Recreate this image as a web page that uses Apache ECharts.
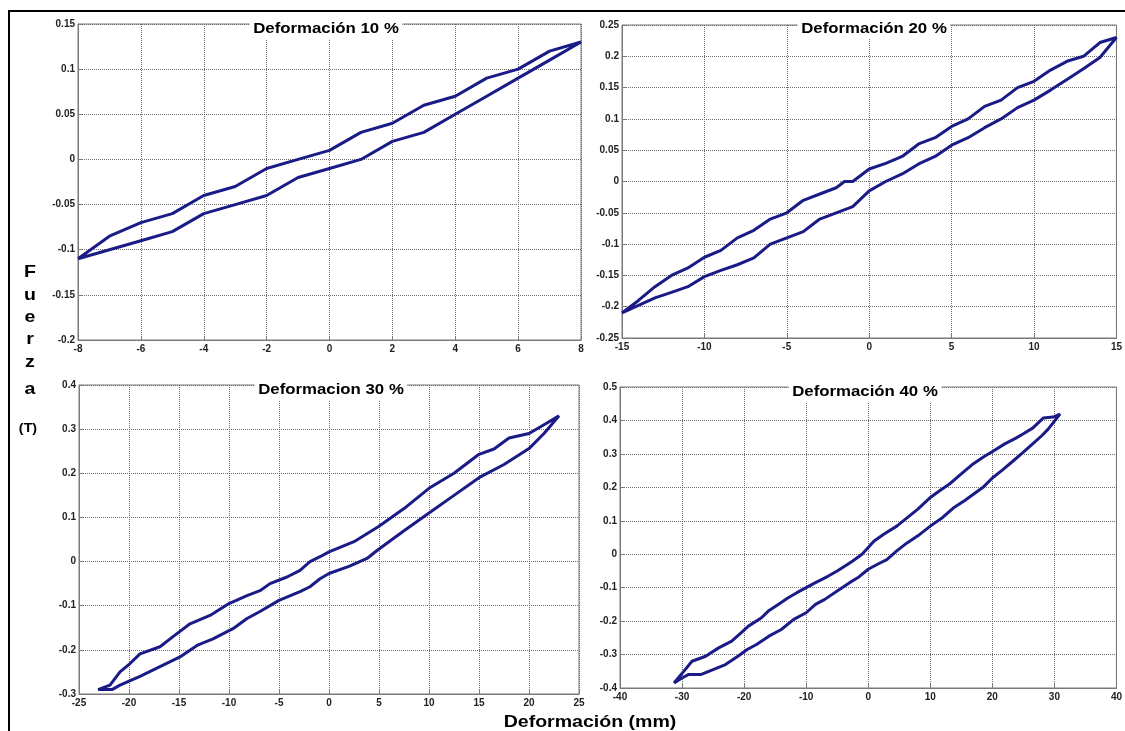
<!DOCTYPE html>
<html>
<head>
<meta charset="utf-8">
<script src="https://cdn.jsdelivr.net/npm/echarts@6/dist/echarts.min.js"></script>
<style>
  html, body { margin: 0; padding: 0; background: #fff; }
  #chart { width: 1125px; height: 731px; }
</style>
</head>
<body>
<div id="chart"></div>
<script>
// Hysteresis loops, force (T) vs. displacement (mm), at four deformation levels.
// Each loop: loading branch (lower) then unloading branch (upper), as [mm, T] pairs.

const titles = ['Deformación 10 %', 'Deformación 20 %', 'Deformacion 30 %', 'Deformación 40 %'];

const loop10Lower = [[-8,-0.11],[-7,-0.10],[-6,-0.09],[-5,-0.08],[-4,-0.06],[-3,-0.05],[-2,-0.04],[-1,-0.02],[0,-0.01],[1,0.0],[2,0.02],[3,0.03],[4,0.05],[5,0.07],[6,0.09],[7,0.11],[8,0.13]];
const loop10Upper = [[8,0.13],[7,0.12],[6,0.10],[5,0.09],[4,0.07],[3,0.06],[2,0.04],[1,0.03],[0,0.01],[-1,0.0],[-2,-0.01],[-3,-0.03],[-4,-0.04],[-5,-0.06],[-6,-0.07],[-7,-0.085],[-8,-0.11]];

const loop20Lower = [[-15,-0.21],[-14,-0.198],[-13,-0.186],[-12,-0.177],[-11,-0.168],[-10,-0.152],[-9,-0.142],[-8,-0.133],[-7,-0.122],[-6,-0.10],[-5,-0.09],[-4,-0.08],[-3,-0.06],[-2,-0.05],[-1,-0.04],[0,-0.015],[1,0.0],[2,0.012],[3,0.028],[4,0.04],[5,0.058],[6,0.07],[7,0.086],[8,0.10],[9,0.118],[10,0.13],[11,0.146],[12,0.163],[13,0.18],[14,0.198],[15,0.23]];
const loop20Upper = [[15,0.23],[14,0.222],[13,0.20],[12,0.192],[11,0.178],[10,0.16],[9,0.15],[8,0.13],[7,0.12],[6,0.10],[5,0.088],[4,0.07],[3,0.06],[2,0.04],[1,0.029],[0,0.02],[-1,0.0],[-1.5,0.0],[-2,-0.01],[-3,-0.02],[-4,-0.03],[-5,-0.05],[-6,-0.06],[-7,-0.078],[-8,-0.09],[-9,-0.11],[-10,-0.121],[-11,-0.138],[-12,-0.15],[-13,-0.168],[-14,-0.19],[-15,-0.21]];

const loop30Lower = [[-23.1,-0.29],[-21.7,-0.29],[-20.9,-0.28],[-18.9,-0.26],[-16.9,-0.238],[-14.9,-0.216],[-13.2,-0.19],[-11.6,-0.175],[-9.6,-0.152],[-8.2,-0.129],[-6.9,-0.113],[-5,-0.088],[-2.9,-0.068],[-1.9,-0.057],[-0.9,-0.039],[0,-0.027],[2,-0.011],[3.8,0.007],[4.8,0.025],[7.5,0.07],[10,0.11],[12.5,0.15],[15,0.19],[17.5,0.22],[20,0.256],[21.5,0.29],[23,0.33]];
const loop30Upper = [[23,0.33],[21.5,0.31],[20,0.29],[18,0.28],[16.5,0.255],[15,0.243],[12.5,0.2],[10,0.166],[7.5,0.12],[5,0.08],[2.5,0.045],[0,0.022],[-0.9,0.011],[-1.9,0.0],[-2.9,-0.02],[-4.2,-0.035],[-5.9,-0.05],[-6.9,-0.066],[-8.2,-0.077],[-10,-0.095],[-11.9,-0.122],[-13.9,-0.141],[-15.6,-0.17],[-16.9,-0.193],[-18.9,-0.209],[-19.9,-0.231],[-20.9,-0.25],[-21.9,-0.28],[-23.1,-0.29]];

const loop40Lower = [[-31.3,-0.385],[-30,-0.37],[-29,-0.36],[-27,-0.36],[-25,-0.345],[-23,-0.33],[-21,-0.305],[-19.5,-0.285],[-18,-0.27],[-16,-0.245],[-14,-0.225],[-12,-0.195],[-10,-0.175],[-8.5,-0.15],[-7,-0.135],[-5,-0.11],[-3,-0.085],[-1.5,-0.068],[0,-0.045],[1.5,-0.03],[3,-0.016],[4.6,0.01],[6.2,0.033],[8,0.055],[10,0.084],[12,0.11],[13.7,0.138],[15.5,0.16],[17,0.18],[18.5,0.2],[20,0.228],[21.5,0.25],[23.3,0.278],[25,0.305],[26.5,0.33],[28,0.355],[29,0.374],[30.9,0.419]];
const loop40Upper = [[30.9,0.419],[29.8,0.41],[28.2,0.407],[26.5,0.377],[25,0.36],[23.8,0.347],[22,0.33],[20.1,0.308],[18.5,0.29],[16.9,0.27],[15,0.24],[13.1,0.21],[11.5,0.19],[9.9,0.168],[8,0.135],[6,0.105],[4.6,0.084],[2.5,0.06],[0.9,0.039],[0,0.02],[-1,0.0],[-2.5,-0.02],[-3.3,-0.03],[-5,-0.05],[-6.5,-0.066],[-8.5,-0.085],[-10,-0.10],[-11.5,-0.115],[-12.9,-0.13],[-14.5,-0.15],[-16.1,-0.17],[-17.2,-0.19],[-19.3,-0.215],[-20.5,-0.235],[-22,-0.26],[-24.1,-0.28],[-26.2,-0.305],[-28.4,-0.32],[-29.5,-0.345],[-31.3,-0.385]];

// Axis ranges: [min, max, interval]
const xRanges = [[-8, 8, 2], [-15, 15, 5], [-25, 25, 5], [-40, 40, 10]];
const yRanges = [[-0.2, 0.15, 0.05], [-0.25, 0.25, 0.05], [-0.3, 0.4, 0.1], [-0.4, 0.5, 0.1]];

const yLabelLetters = ['F', 'u', 'e', 'r', 'z', 'a'];
const yLabelUnit = '(T)';
const xLabelText = 'Deformación (mm)';

const loops = [
  loop10Lower.concat(loop10Upper),
  loop20Lower.concat(loop20Upper),
  loop30Lower.concat(loop30Upper),
  loop40Lower.concat(loop40Upper)
];

// panel boxes in pixels
const boxes = [
  { left: 78,  top: 24,  width: 503, height: 316 },
  { left: 622, top: 25,  width: 499, height: 313 },
  { left: 79,  top: 385, width: 500, height: 309 },
  { left: 620, top: 387, width: 502, height: 301 }
];

const FONT = '"Liberation Sans", Arial, sans-serif';
const AXIS_GRAY = '#7a7a7a';
const GRID_GRAY = '#6e6e6e';
const LINE_BLUE = '#1b1b88';

function fmt(v) { return String(parseFloat(v.toFixed(3))); }

const grid = boxes.map(b => ({
  left: b.left, top: b.top, width: b.width, height: b.height,
  show: true, borderColor: AXIS_GRAY, borderWidth: 1, backgroundColor: '#fff'
}));

const xAxis = xRanges.map((r, i) => ({
  type: 'value', gridIndex: i, min: r[0], max: r[1], interval: r[2],
  axisLine: { show: true, onZero: false, lineStyle: { color: AXIS_GRAY, width: 1 } },
  axisTick: { show: true, inside: true, length: 4, lineStyle: { color: AXIS_GRAY } },
  axisLabel: { show: true, margin: 4, showMinLabel: true, showMaxLabel: true,
    fontFamily: FONT, fontWeight: 'bold', fontSize: 10, color: '#222', formatter: fmt },
  splitLine: { show: true, lineStyle: { color: GRID_GRAY, type: [1, 1], width: 1 } }
}));

const yAxis = yRanges.map((r, i) => ({
  type: 'value', gridIndex: i, min: r[0], max: r[1], interval: r[2],
  axisLine: { show: true, onZero: false, lineStyle: { color: AXIS_GRAY, width: 1 } },
  axisTick: { show: true, inside: true, length: 4, lineStyle: { color: AXIS_GRAY } },
  axisLabel: { show: true, margin: 3, showMinLabel: true, showMaxLabel: true,
    fontFamily: FONT, fontWeight: 'bold', fontSize: 10, color: '#222', formatter: fmt },
  splitLine: { show: true, lineStyle: { color: GRID_GRAY, type: [1, 1], width: 1 } }
}));

const series = loops.map((d, i) => ({
  type: 'line', xAxisIndex: i, yAxisIndex: i, data: d,
  showSymbol: false, symbol: 'none', smooth: false,
  lineStyle: { color: LINE_BLUE, width: 3 },
  z: 5
}));

// panel titles sit over the top edge of each box on a white band
const titleCenters = [[326, 29], [874, 29], [331, 390], [865, 392]];
const graphic = [];
titles.forEach((t, i) => {
  graphic.push({
    type: 'text', z: 100, x: titleCenters[i][0], y: titleCenters[i][1],
    scaleX: 1.2, scaleY: 1,
    style: {
      text: t, fontFamily: FONT, fontWeight: 'bold', fontSize: 14, fill: '#000',
      align: 'center', verticalAlign: 'middle',
      backgroundColor: '#fff', padding: [3, 3, 3, 3]
    }
  });
});

// stacked vertical axis label
const letterY = [272, 295, 317, 339, 362, 389];
yLabelLetters.forEach((ch, i) => {
  graphic.push({
    type: 'text', z: 100, x: 30, y: letterY[i], scaleX: 1.15,
    style: { text: ch, fontFamily: FONT, fontWeight: 900, fontSize: 17, fill: '#000',
      align: 'center', verticalAlign: 'middle' }
  });
});
graphic.push({
  type: 'text', z: 100, x: 28, y: 428, scaleX: 1.1,
  style: { text: yLabelUnit, fontFamily: FONT, fontWeight: 'bold', fontSize: 13, fill: '#000',
    align: 'center', verticalAlign: 'middle' }
});
graphic.push({
  type: 'text', z: 100, x: 590, y: 722, scaleX: 1.15,
  style: { text: xLabelText, fontFamily: FONT, fontWeight: 'bold', fontSize: 17, fill: '#000',
    align: 'center', verticalAlign: 'middle' }
});

// outer frame
graphic.push({
  type: 'rect', z: 101, silent: true,
  shape: { x: 9, y: 11, width: 1140, height: 760 },
  style: { fill: 'none', stroke: '#000', lineWidth: 2 }
});

const chart = echarts.init(document.getElementById('chart'), null, { renderer: 'canvas' });
chart.setOption({
  animation: false,
  backgroundColor: '#fff',
  grid: grid,
  xAxis: xAxis,
  yAxis: yAxis,
  series: series,
  graphic: graphic
});
</script>
</body>
</html>
